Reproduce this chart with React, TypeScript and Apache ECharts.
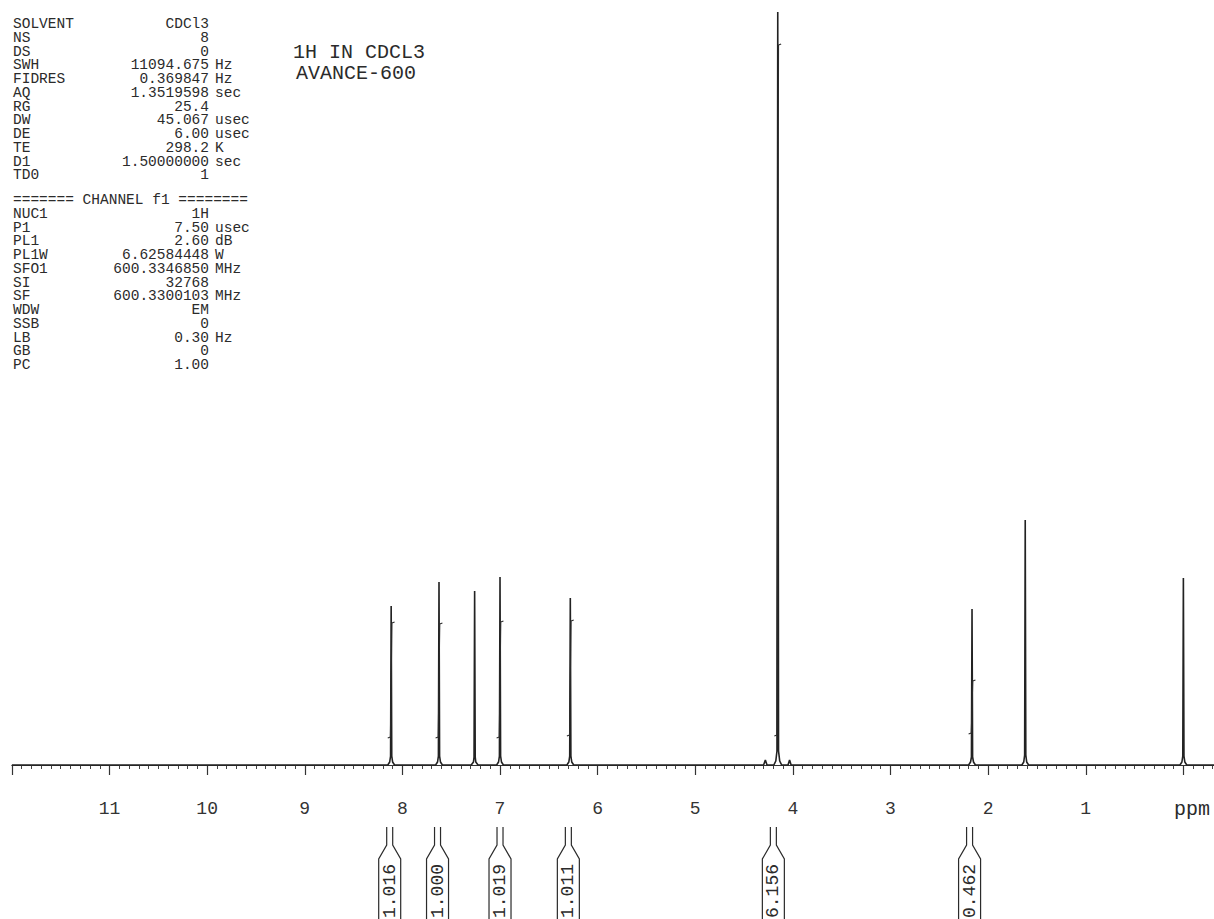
import React, { useEffect, useRef } from 'react';
import * as echarts from 'echarts';

const MONO = '"Liberation Mono", "DejaVu Sans Mono", monospace';
const INK = '#2b2b2b';

// ---- spectrum trace: chemical shift (ppm) and intensity (arbitrary units) ----
const spectrumPpm = [
  12.0,
  8.150, 8.130, 8.121, 8.115, 8.109, 8.100, 8.080,
  7.660, 7.640, 7.631, 7.625, 7.619, 7.610, 7.590,
  7.295, 7.272, 7.266, 7.260, 7.254, 7.248, 7.225,
  7.035, 7.015, 7.006, 7.000, 6.994, 6.985, 6.965,
  6.315, 6.295, 6.286, 6.280, 6.274, 6.265, 6.245,
  4.300, 4.282, 4.265,
  4.195, 4.175, 4.163, 4.155, 4.147, 4.135, 4.115,
  4.050, 4.034, 4.018,
  2.200, 2.180, 2.171, 2.165, 2.159, 2.150, 2.130,
  1.655, 1.635, 1.626, 1.620, 1.614, 1.605, 1.585,
  0.035, 0.015, 0.006, 0.000, -0.006, -0.015, -0.035,
  -1.0,
];
const spectrumIntensity = [
  0,
  0, 3, 9, 159, 9, 3, 0,
  0, 3, 9, 183, 9, 3, 0,
  0, 3, 8, 174, 8, 3, 0,
  0, 3, 9, 188, 9, 3, 0,
  0, 3, 9, 167, 9, 3, 0,
  0, 5, 0,
  0, 4, 14, 753, 14, 4, 0,
  0, 5, 0,
  0, 3, 8, 156, 8, 3, 0,
  0, 3, 10, 245, 10, 3, 0,
  0, 3, 9, 187, 9, 3, 0,
  0,
];

// ---- integrals ----
const integralCenter = [8.13, 7.64, 7.0, 6.3, 4.2, 2.19];
const integralPeak = [8.115, 7.625, 7.0, 6.28, 4.155, 2.165];
const integralValue = ['1.016', '1.000', '1.019', '1.011', '6.156', '0.462'];
const integralLow = [28, 28, 28, 30, 30, 32];
const integralHigh = [142, 141, 143, 144, 720, 84];

// ---- axis ----
const axisMin = -1;
const axisMax = 12;
const axisStep = 1;

// ---- texts ----
const titleLines = ['1H IN CDCL3', 'AVANCE-600'];
const acqNames = ['SOLVENT', 'NS', 'DS', 'SWH', 'FIDRES', 'AQ', 'RG', 'DW', 'DE', 'TE', 'D1', 'TD0'];
const acqValues = ['CDCl3', '8', '0', '11094.675', '0.369847', '1.3519598', '25.4', '45.067', '6.00', '298.2', '1.50000000', '1'];
const acqUnits = ['', '', '', 'Hz', 'Hz', 'sec', '', 'usec', 'usec', 'K', 'sec', ''];
const channelHeader = '======= CHANNEL f1 ========';
const chNames = ['NUC1', 'P1', 'PL1', 'PL1W', 'SFO1', 'SI', 'SF', 'WDW', 'SSB', 'LB', 'GB', 'PC'];
const chValues = ['1H', '7.50', '2.60', '6.62584448', '600.3346850', '32768', '600.3300103', 'EM', '0', '0.30', '0', '1.00'];
const chUnits = ['', 'usec', 'dB', 'W', 'MHz', '', 'MHz', '', '', 'Hz', '', ''];

const PAGE_W = 1214;
const PAGE_H = 919;
const CHART_W = 1284; // the axis runs on past the right page edge down to -1 ppm

function txt(x: number, y: number, text: string, size: number, align: string, extra: any = {}) {
  return {
    type: 'text',
    x,
    y,
    silent: true,
    ...extra,
    style: {
      x: 0,
      y: 0,
      text,
      font: `${size}px ${MONO}`,
      fill: INK,
      align,
      textAlign: align,
      verticalAlign: 'middle',
      textVerticalAlign: 'middle',
    },
  };
}

export default function App() {
  const ref = useRef<HTMLDivElement>(null);

  useEffect(() => {
    const chart = echarts.init(ref.current!, null, { renderer: 'svg' });
    const spectrum = spectrumPpm.map((p, i) => [p, spectrumIntensity[i]]);

    const integralSeries = integralPeak.map((p, i) => ({
      type: 'line',
      silent: true,
      symbol: 'none',
      showSymbol: false,
      lineStyle: { color: INK, width: 1.1 },
      data: [
        [p + 0.035, integralLow[i] - 1],
        [p + 0.008, integralLow[i]],
        [p - 0.008, integralHigh[i]],
        [p - 0.035, integralHigh[i] + 1],
      ],
      z: 3,
    }));

    chart.setOption({
      animation: false,
      backgroundColor: '#ffffff',
      grid: { left: 11.9, right: 0.6, top: 0, bottom: 136 },
      xAxis: {
        type: 'value',
        inverse: true,
        min: axisMin,
        max: axisMax,
        interval: axisStep,
        axisLine: { show: true, lineStyle: { color: '#333', width: 1.2 } },
        axisTick: { show: true, length: 10, lineStyle: { color: '#333', width: 1.2 } },
        minorTick: { show: true, splitNumber: 10, length: 4, lineStyle: { color: '#444', width: 1 } },
        splitLine: { show: false },
        minorSplitLine: { show: false },
        axisLabel: {
          margin: 17,
          fontFamily: MONO,
          fontSize: 18,
          color: '#333',
          formatter: (v: number) => (v >= 12 || v <= 0 ? '' : String(v)),
        },
      },
      yAxis: { type: 'value', min: -18, max: 765, show: false },
      series: [
        {
          type: 'line',
          silent: true,
          symbol: 'none',
          showSymbol: false,
          lineStyle: { color: '#222', width: 1.6 },
          data: spectrum,
          z: 2,
        },
        ...integralSeries,
      ],
    });

    const px = (ppm: number) => chart.convertToPixel({ xAxisIndex: 0 }, ppm) as number;

    const graphic: any[] = [];
    // title
    graphic.push(txt(293, 52, titleLines[0], 20, 'left'));
    graphic.push(txt(296, 73, titleLines[1], 20, 'left'));
    // parameter block
    const rowH = 13.75;
    const fs = 14.5;
    acqNames.forEach((n, i) => {
      const y = 24 + i * rowH;
      graphic.push(txt(13, y, n, fs, 'left'));
      graphic.push(txt(209, y, acqValues[i], fs, 'right'));
      if (acqUnits[i]) graphic.push(txt(215, y, acqUnits[i], fs, 'left'));
    });
    graphic.push(txt(13, 200, channelHeader, fs, 'left'));
    chNames.forEach((n, i) => {
      const y = 200 + (i + 1) * rowH;
      graphic.push(txt(13, y, n, fs, 'left'));
      graphic.push(txt(209, y, chValues[i], fs, 'right'));
      if (chUnits[i]) graphic.push(txt(215, y, chUnits[i], fs, 'left'));
    });
    // ppm unit label
    graphic.push(txt(1174, 809, 'ppm', 20, 'left'));
    // integral brackets
    integralCenter.forEach((c, i) => {
      const cx = px(c);
      const side = (s: number) => ({
        type: 'polyline',
        silent: true,
        shape: {
          points: [
            [cx + s * 3, 827],
            [cx + s * 3, 845],
            [cx + s * 11, 859],
            [cx + s * 11, 925],
          ],
        },
        style: { stroke: INK, lineWidth: 1.2, fill: null },
      });
      graphic.push(side(-1));
      graphic.push(side(1));
      graphic.push(txt(cx, 891, integralValue[i], 18, 'center', { rotation: Math.PI / 2 }));
    });

    chart.setOption({ graphic });

    return () => chart.dispose();
  }, []);

  return (
    <div
      style={{
        position: 'fixed',
        left: 0,
        top: 0,
        width: PAGE_W,
        height: PAGE_H,
        overflow: 'hidden',
        background: '#fff',
      }}
    >
      <div ref={ref} style={{ width: CHART_W, height: PAGE_H }} />
    </div>
  );
}
